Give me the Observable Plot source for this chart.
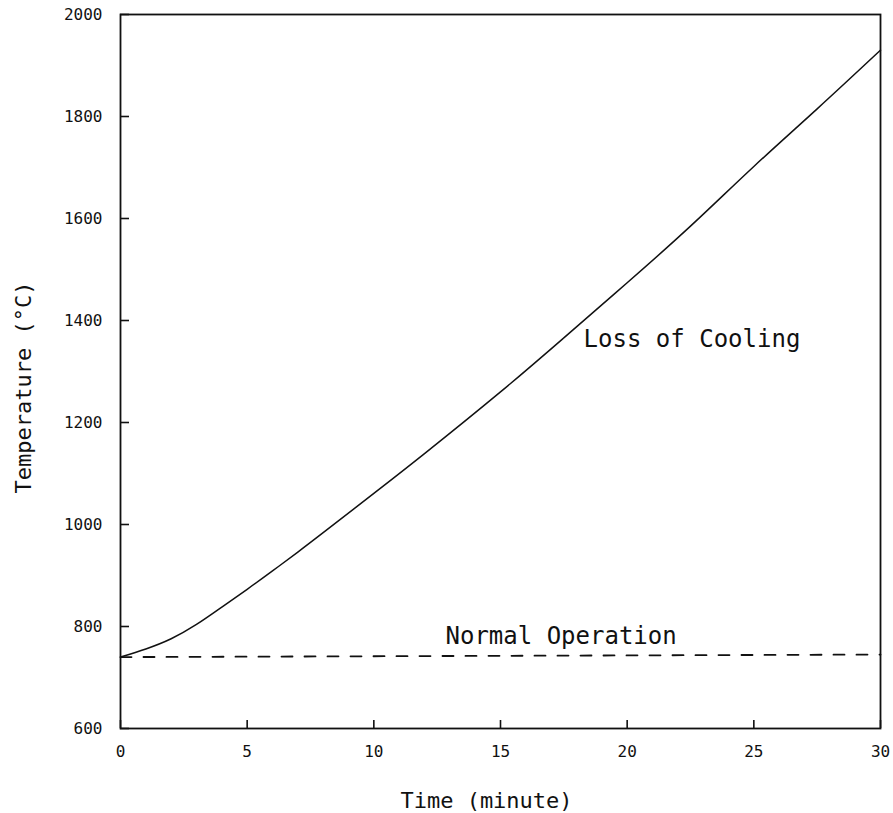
<!DOCTYPE html>
<html><head><meta charset="utf-8">
<script src="https://cdn.jsdelivr.net/npm/d3@7"></script>
<script src="https://cdn.jsdelivr.net/npm/@observablehq/plot@0.6"></script>
<style>
body{margin:0;background:#fff;}
</style>
</head><body><div id="chart"></div>
<script>
// Loss of Cooling curve (time in minutes, temperature °C)
const lossTime = [0, 1, 2, 3, 4, 5, 6, 7, 8, 10, 12, 15, 17.5, 20, 22.5, 25, 27.5, 30];
const lossTemp = [740, 756, 776, 804, 838, 873, 909, 946, 984, 1061, 1139, 1260, 1366, 1474, 1585, 1702, 1815, 1930];
// Normal Operation (dashed)
const normalTime = [0, 30];
const normalTemp = [740, 745];
// Ticks
const xTicks = [0, 5, 10, 15, 20, 25, 30];
const yTicks = [600, 800, 1000, 1200, 1400, 1600, 1800, 2000];
// Annotations
const annoText = ["Loss of Cooling", "Normal Operation"];
const annoTime = [18.28, 12.83];
const annoTemp = [1364, 780];

const loss = lossTime.map((t, i) => ({t, v: lossTemp[i]}));
const normal = normalTime.map((t, i) => ({t, v: normalTemp[i]}));
const annos = annoText.map((text, i) => ({text, t: annoTime[i], v: annoTemp[i]}));

const xDomain = [0, 30];
const yDomain = [600, 2000];
const mono = "DejaVu Sans Mono, monospace";
const ink = "#111";

const chart = Plot.plot({
  width: 893,
  height: 813,
  marginLeft: 120,
  marginRight: 13,
  marginTop: 14,
  marginBottom: 85,
  style: {fontFamily: mono, color: ink, background: "#fff"},
  x: {domain: xDomain, label: null},
  y: {domain: yDomain, label: null},
  marks: [
    Plot.frame({stroke: ink, strokeWidth: 1.8}),
    // tick labels
    Plot.axisY(yTicks, {tickSize: 0, tickPadding: 18, tickFormat: d3.format("d"), fontSize: 16, letterSpacing: 1.5, fill: ink}),
    Plot.axisX(xTicks, {tickSize: 0, tickPadding: 17, tickFormat: d3.format("d"), fontSize: 16, letterSpacing: 1.5, fill: ink}),
    // inward tick marks (zero-length rules extended by negative insets)
    Plot.ruleY(yTicks, {y: d => d, x1: xDomain[0], x2: xDomain[0], insetRight: -9, stroke: ink, strokeWidth: 1.6}),
    Plot.ruleX(xTicks, {x: d => d, y1: yDomain[0], y2: yDomain[0], insetTop: -8, stroke: ink, strokeWidth: 1.6}),
    Plot.line(normal, {x: "t", y: "v", stroke: ink, strokeWidth: 1.8, strokeDasharray: "11,12"}),
    Plot.line(loss, {x: "t", y: "v", stroke: ink, strokeWidth: 1.5, curve: "natural"}),
    Plot.text(annos, {x: "t", y: "v", text: "text", textAnchor: "start", lineAnchor: "middle", fontSize: 24, fill: ink, fontFamily: mono}),
    Plot.text(["Time (minute)"], {frameAnchor: "bottom", textAnchor: "middle", dy: 72, dx: -14, fontSize: 22, fill: ink, fontFamily: mono, lineAnchor: "middle"}),
    Plot.text(["Temperature (°C)"], {frameAnchor: "left", textAnchor: "middle", dx: -97, dy: 16, rotate: -90, fontSize: 22, fill: ink, fontFamily: mono, lineAnchor: "middle"})
  ]
});
document.getElementById("chart").append(chart);
</script>
</body></html>
